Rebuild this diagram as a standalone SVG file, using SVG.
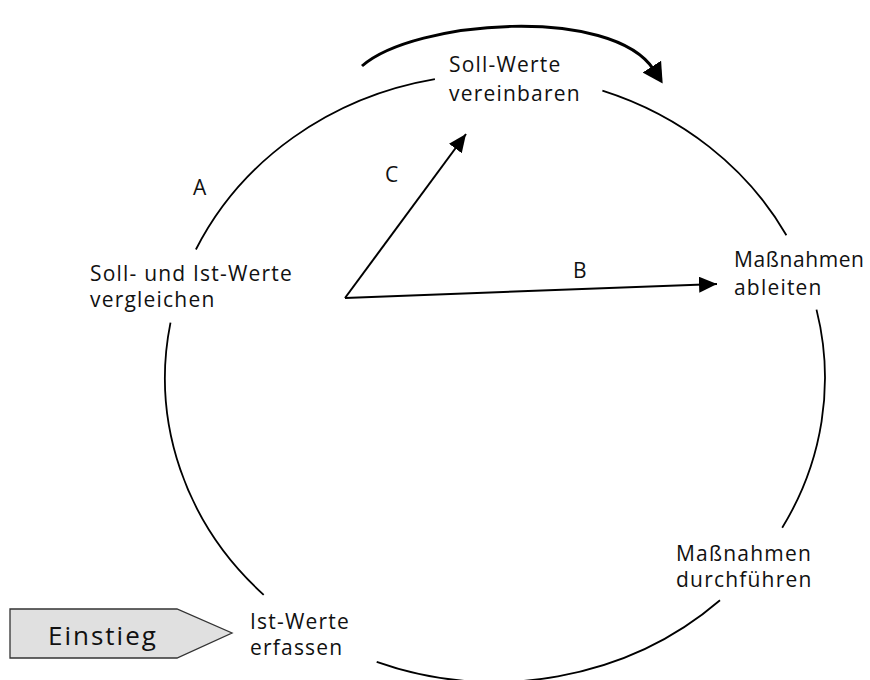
<svg xmlns="http://www.w3.org/2000/svg" width="870" height="680" viewBox="0 0 870 680">
<style>
  text { font-family: "Open Sans", "Liberation Sans", sans-serif; font-size: 21px; fill: #111; letter-spacing: 1.2px; }
  .lbl { font-size: 21px; letter-spacing: 0; }
  .ring { fill: none; stroke: #000; stroke-width: 1.8; }
  .conn { fill: none; stroke: #000; stroke-width: 2; }
</style>
<defs>
  <marker id="ah" markerUnits="userSpaceOnUse" markerWidth="18" markerHeight="16" viewBox="0 0 18 16" refX="18" refY="8" orient="auto">
    <path d="M0,0 L18,8 L0,16 z" fill="#000"/>
  </marker>
  <marker id="ahbig" markerUnits="userSpaceOnUse" markerWidth="20" markerHeight="22" viewBox="0 0 20 22" refX="4" refY="11" orient="auto">
    <path d="M0,0 L20,11 L0,22 z" fill="#000"/>
  </marker>
</defs>

<g id="cycle">
  <path class="ring" d="M434.9,79.1 A330,304 0 0 0 195.9,249.5"/>
  <path class="ring" d="M170.5,322.6 A330,304 0 0 0 263.7,594.8"/>
  <path class="ring" d="M376.7,661.8 A330,304 0 0 0 720,600.3"/>
  <path class="ring" d="M782.2,527.7 A330,304 0 0 0 816.5,309.6"/>
  <path class="ring" d="M786.4,235.3 A330,304 0 0 0 602.4,90.6"/>
</g>

<g id="connectors">
  <path class="conn" d="M345,298 L466,134" marker-end="url(#ah)"/>
  <path class="conn" d="M345,298 L717,284" marker-end="url(#ah)"/>
  <path d="M362,66 C414,20 612,5 654,70" fill="none" stroke="#000" stroke-width="3" marker-end="url(#ahbig)"/>
</g>

<g id="n-soll">
  <text x="449" y="72">Soll-Werte</text>
  <text x="449" y="101">vereinbaren</text>
</g>
<g id="n-vergleichen">
  <text x="90" y="281">Soll- und Ist-Werte</text>
  <text x="90" y="307">vergleichen</text>
</g>
<g id="n-ableiten">
  <text x="734" y="267" style="letter-spacing:0.6px">Maßnahmen</text>
  <text x="734" y="295">ableiten</text>
</g>
<g id="n-durchfuehren">
  <text x="676" y="561">Maßnahmen</text>
  <text x="676" y="587">durchführen</text>
</g>
<g id="n-ist">
  <text x="250" y="629">Ist-Werte</text>
  <text x="250" y="655">erfassen</text>
</g>
<g id="n-einstieg">
  <polygon points="10,609 177,609 232,633 177,658 10,658" fill="#e0e0e0" stroke="#333" stroke-width="1.3"/>
  <text x="48" y="645" style="font-size:26px;letter-spacing:2px">Einstieg</text>
</g>
<g id="labels">
  <text class="lbl" x="193" y="195">A</text>
  <text class="lbl" x="385" y="182">C</text>
  <text class="lbl" x="573" y="278">B</text>
</g>
</svg>
